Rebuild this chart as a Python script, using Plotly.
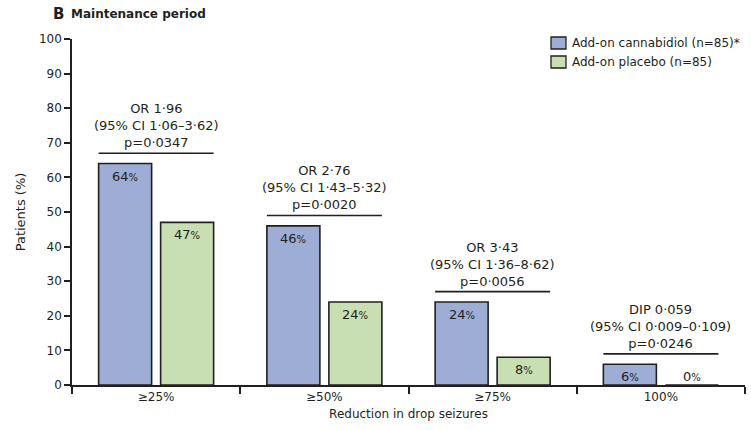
import plotly.graph_objects as go

# Reduction thresholds on the x axis
categories = ["≥25%", "≥50%", "≥75%", "100%"]

# Responder rates (% of patients) per arm
cannabidiol = [64, 46, 24, 6]
placebo = [47, 24, 8, 0]

# Between-group statistics printed above each pair of bars
stat_labels = [
    "OR 1·96<br>(95% CI 1·06–3·62)<br>p=0·0347",
    "OR 2·76<br>(95% CI 1·43–5·32)<br>p=0·0020",
    "OR 3·43<br>(95% CI 1·36–8·62)<br>p=0·0056",
    "DIP 0·059<br>(95% CI 0·009–0·109)<br>p=0·0246",
]

series_names = ["Add-on cannabidiol (n=85)*", "Add-on placebo (n=85)"]

FONT = "DejaVu Sans"
INK = "#231f20"
BLUE = "#9dadd6"
GREEN = "#c8dfb3"
COLORS = [BLUE, GREEN]

# figure geometry (px)
W, H = 751, 430
ML, MR, MT, MB = 72, 6, 39, 45
PW, PH = W - ML - MR, H - MT - MB


def px_x(px):
    return (px - ML) / PW


def px_y(py):
    return (H - MB - py) / PH


BARGAP = 0.263
GROUPGAP = 0.145
# outer edge of a bar pair, in category units
half_group = (1 - BARGAP) / 2
pair_edge = half_group - (half_group * GROUPGAP) / 2

fig = go.Figure()
for name, vals, col in zip(series_names, [cannabidiol, placebo], COLORS):
    fig.add_trace(go.Bar(
        x=categories, y=vals, name=name, showlegend=False,
        marker=dict(color=col, line=dict(color=INK, width=1.6)),
        hoverinfo="skip",
    ))

annotations = []
shapes = []
PX_OFF = 31  # horizontal offset of each bar from its category centre (px)
for i, cat in enumerate(categories):
    for vals, sign in [(cannabidiol, -1), (placebo, 1)]:
        v = vals[i]
        txt = f"{v}<span style='font-size:10px'>%</span>"
        if v >= 8:
            annotations.append(dict(x=cat, y=v, xref="x", yref="y", text=txt, showarrow=False,
                                    xshift=sign * PX_OFF, yanchor="top", yshift=-3,
                                    font=dict(family=FONT, size=13, color=INK)))
        else:
            annotations.append(dict(x=cat, y=0, xref="x", yref="y", text=txt, showarrow=False,
                                    xshift=sign * PX_OFF, yanchor="bottom", yshift=-1,
                                    font=dict(family=FONT, size=13, color=INK)))
    line_y = cannabidiol[i] + 3
    shapes.append(dict(type="line", xref="x", yref="y", x0=i - pair_edge, x1=i + pair_edge,
                       y0=line_y, y1=line_y, line=dict(color=INK, width=1.6)))
    annotations.append(dict(x=cat, y=line_y, xref="x", yref="y", text=stat_labels[i],
                            showarrow=False, yanchor="bottom", yshift=1,
                            font=dict(family=FONT, size=13, color=INK)))

# legend drawn as swatches + labels
for k, (name, col) in enumerate(zip(series_names, COLORS)):
    cy = 43 + k * 19
    shapes.append(dict(type="rect", xref="paper", yref="paper",
                       x0=px_x(551), x1=px_x(566), y0=px_y(cy + 6), y1=px_y(cy - 6),
                       fillcolor=col, line=dict(color=INK, width=1.3)))
    annotations.append(dict(x=px_x(570), y=px_y(cy), xref="paper", yref="paper", text=name,
                            showarrow=False, xanchor="left", yanchor="middle",
                            font=dict(family=FONT, size=12, color=INK)))

# panel heading
annotations.append(dict(x=px_x(51), y=px_y(14), xref="paper", yref="paper", text="<b>B</b>",
                        showarrow=False, xanchor="left", yanchor="middle",
                        font=dict(family=FONT, size=15, color=INK)))
annotations.append(dict(x=px_x(69), y=px_y(14), xref="paper", yref="paper",
                        text="<b>Maintenance period</b>", showarrow=False,
                        xanchor="left", yanchor="middle",
                        font=dict(family=FONT, size=12, color=INK)))

fig.update_layout(
    width=W, height=H,
    margin=dict(l=ML, r=MR, t=MT, b=MB),
    paper_bgcolor="white", plot_bgcolor="white",
    barmode="group", bargap=BARGAP, bargroupgap=GROUPGAP,
    font=dict(family=FONT, size=12, color=INK),
    showlegend=False,
    xaxis=dict(
        type="category", tickson="boundaries", ticks="outside", ticklen=7, tickwidth=1.6,
        tickcolor=INK, showline=True, linecolor=INK, linewidth=1.6, showgrid=False,
        tickfont=dict(family=FONT, size=12, color=INK),
        title=dict(text="Reduction in drop seizures", font=dict(family=FONT, size=12, color=INK),
                   standoff=6),
    ),
    yaxis=dict(
        range=[0, 100], dtick=10, ticks="outside", ticklen=6, tickwidth=1.6, tickcolor=INK,
        showline=True, linecolor=INK, linewidth=1.6, showgrid=False, zeroline=False,
        tickfont=dict(family=FONT, size=12, color=INK),
        title=dict(text="Patients (%)", font=dict(family=FONT, size=13, color=INK), standoff=10),
    ),
    shapes=shapes,
    annotations=annotations,
)

fig.write_html("out.html")
